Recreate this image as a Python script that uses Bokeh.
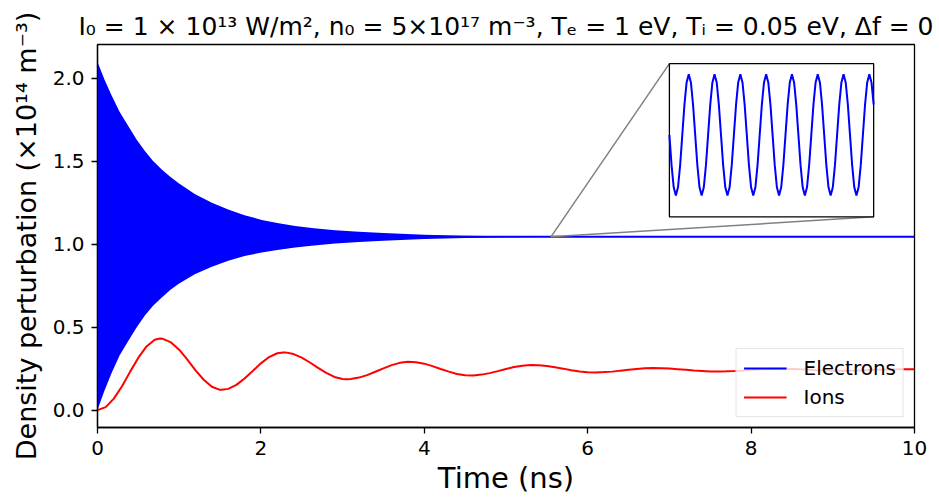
import numpy as np
from bokeh.plotting import figure
from bokeh.models import Range1d, FixedTicker, PrintfTickFormatter, Legend, LegendItem
from bokeh.embed import file_html
from bokeh.resources import INLINE

# ---------------- data ----------------
title_text = "I\u2080 = 1 \u00d7 10\u00b9\u00b3 W/m\u00b2, n\u2080 = 5\u00d710\u00b9\u2077 m\u207b\u00b3, T\u2091 = 1 eV, T\u1d62 = 0.05 eV, \u0394f = 0"
x_label = "Time (ns)"
y_label = "Density perturbation (\u00d710\u00b9\u2074 m\u207b\u00b3)"
x_ticks = [0, 2, 4, 6, 8, 10]
y_ticks = [0.0, 0.5, 1.0, 1.5, 2.0]

# electrons: envelope of the fast oscillation (x10^14 m^-3)
elec_t = [0.0, 0.08, 0.17, 0.27, 0.38, 0.48, 0.58, 0.68, 0.79, 0.89, 0.99, 1.19,
          1.40, 1.60, 1.80, 2.01, 2.20, 2.42, 2.65, 2.91, 3.20, 3.50, 4.00, 4.50,
          5.00, 5.50, 6.00, 10.0]
elec_upper = [2.10, 2.00, 1.90, 1.80, 1.71, 1.63, 1.562, 1.502, 1.45, 1.407, 1.37, 1.303,
              1.25, 1.21, 1.175, 1.147, 1.128, 1.111, 1.097, 1.085, 1.076, 1.068, 1.058, 1.052,
              1.048, 1.046, 1.045, 1.045]
elec_lower = [0.00, 0.11, 0.22, 0.33, 0.42, 0.50, 0.57, 0.63, 0.68, 0.725, 0.76, 0.82,
              0.865, 0.90, 0.93, 0.95, 0.965, 0.98, 0.993, 1.005, 1.014, 1.022, 1.032, 1.038,
              1.042, 1.044, 1.045, 1.045]

# ions
ion_t = [0.0, 0.1, 0.2, 0.3, 0.4, 0.5, 0.6, 0.7, 0.765, 0.8, 0.9, 1.0,
         1.1, 1.2, 1.3, 1.4, 1.5, 1.52, 1.6, 1.7, 1.8, 1.9, 2.0, 2.1,
         2.2, 2.274, 2.3, 2.4, 2.5, 2.6, 2.7, 2.8, 2.9, 3.0, 3.05, 3.1,
         3.2, 3.3, 3.4, 3.5, 3.6, 3.7, 3.8, 3.9, 4.0, 4.1, 4.2, 4.3,
         4.4, 4.5, 4.6, 4.7, 4.8, 4.9, 5.0, 5.1, 5.2, 5.3, 5.4, 5.5,
         5.6, 5.7, 5.8, 5.9, 6.0, 6.1, 6.2, 6.3, 6.4, 6.5, 6.6, 6.7,
         6.8, 6.9, 7.0, 7.1, 7.2, 7.3, 7.4, 7.5, 7.6, 7.7, 7.8, 7.9,
         8.0, 8.1, 8.2, 8.3, 8.4, 8.5, 8.6, 8.7, 8.8, 8.9, 9.0, 9.1,
         9.2, 9.3, 9.4, 9.5, 9.6, 9.7, 9.8, 9.9, 10.0]
ion_n = [0.000, 0.018, 0.069, 0.144, 0.232, 0.316, 0.384, 0.424, 0.432, 0.430, 0.408, 0.364,
         0.304, 0.240, 0.183, 0.141, 0.122, 0.122, 0.128, 0.152, 0.191, 0.236, 0.282, 0.320,
         0.343, 0.348, 0.348, 0.338, 0.316, 0.287, 0.255, 0.224, 0.200, 0.188, 0.186, 0.187,
         0.196, 0.211, 0.231, 0.252, 0.271, 0.285, 0.291, 0.289, 0.280, 0.265, 0.248, 0.232,
         0.218, 0.210, 0.209, 0.214, 0.223, 0.235, 0.248, 0.260, 0.268, 0.272, 0.271, 0.266,
         0.258, 0.250, 0.240, 0.233, 0.228, 0.227, 0.229, 0.232, 0.238, 0.243, 0.248, 0.252,
         0.254, 0.253, 0.251, 0.247, 0.243, 0.239, 0.236, 0.233, 0.233, 0.234, 0.236, 0.239,
         0.243, 0.246, 0.248, 0.249, 0.249, 0.248, 0.246, 0.244, 0.241, 0.240, 0.238, 0.238,
         0.238, 0.239, 0.241, 0.243, 0.244, 0.245, 0.246, 0.246, 0.246]

# inset: zoom on the electron oscillation near t = 5.55 ns
zoom_t = 5.55
zoom_n = 1.045
inset_n = [
    1.04514, 1.04435, 1.04377, 1.04356, 1.04377, 1.04435, 1.04514, 1.04593, 1.04651, 1.04672, 1.04651, 1.04593,
    1.04514, 1.04435, 1.04377, 1.04356, 1.04377, 1.04435, 1.04514, 1.04593, 1.04651, 1.04672, 1.04651, 1.04593,
    1.04514, 1.04435, 1.04377, 1.04356, 1.04377, 1.04435, 1.04514, 1.04593, 1.04651, 1.04672, 1.04651, 1.04593,
    1.04514, 1.04435, 1.04377, 1.04356, 1.04377, 1.04435, 1.04514, 1.04593, 1.04651, 1.04672, 1.04651, 1.04593,
    1.04514, 1.04435, 1.04377, 1.04356, 1.04377, 1.04435, 1.04514, 1.04593, 1.04651, 1.04672, 1.04651, 1.04593,
    1.04514, 1.04435, 1.04377, 1.04356, 1.04377, 1.04435, 1.04514, 1.04593, 1.04651, 1.04672, 1.04651, 1.04593,
    1.04514, 1.04435, 1.04377, 1.04356, 1.04377, 1.04435, 1.04514, 1.04593, 1.04651, 1.04672, 1.04651, 1.04593,
    1.04514, 1.04435, 1.04377, 1.04356, 1.04377, 1.04435, 1.04514, 1.04593, 1.04651, 1.04672, 1.04651, 1.04593,
]
inset_t_start, inset_t_end = 5.5495, 5.5505
inset_n_lim = (1.0430, 1.0470)

# ---------------- layout constants ----------------
FONT = "DejaVu Sans"
X0, X1 = 0.0, 10.0
Y0, Y1 = -0.105, 2.205
# inset box in axes fractions
FX0, FX1, FY0, FY1 = 0.70, 0.95, 0.55, 0.95

inset_t = np.linspace(inset_t_start, inset_t_end, len(inset_n))

# ---------------- figure ----------------
p = figure(width=939, height=497, x_range=Range1d(X0, X1), y_range=Range1d(Y0, Y1),
           output_backend="svg", toolbar_location=None,
           min_border_left=97, min_border_right=25, min_border_top=44, min_border_bottom=67)

# inset ranges, chosen so the inset data fills the inset box
sx = (inset_t_end - inset_t_start) / (FX1 - FX0)
ix_start = inset_t_start - FX0 * sx
sy = (inset_n_lim[1] - inset_n_lim[0]) / (FY1 - FY0)
iy_start = inset_n_lim[0] - FY0 * sy
p.extra_x_ranges = {"inset_x": Range1d(ix_start, ix_start + sx)}
p.extra_y_ranges = {"inset_y": Range1d(iy_start, iy_start + sy)}

p.title.text = title_text
p.title.align = "center"
p.title.text_font = FONT
p.title.text_font_size = "25px"
p.title.text_font_style = "normal"
p.title.text_color = "black"
p.title.standoff = 8

p.xgrid.visible = False
p.ygrid.visible = False
p.background_fill_color = "white"
p.border_fill_color = "white"
p.outline_line_color = "black"
p.outline_line_width = 1.3
p.outline_line_alpha = 1.0

p.xaxis.ticker = FixedTicker(ticks=x_ticks)
p.yaxis.ticker = FixedTicker(ticks=y_ticks)
p.yaxis.formatter = PrintfTickFormatter(format="%.1f")
p.xaxis.axis_label = x_label
p.yaxis.axis_label = y_label
for ax in (p.xaxis, p.yaxis):
    ax.axis_label_text_font = FONT
    ax.axis_label_text_font_style = "normal"
    ax.axis_label_text_color = "black"
    ax.major_label_text_font = FONT
    ax.major_label_text_font_size = "20px"
    ax.major_label_text_color = "black"
    ax.axis_line_color = "black"
    ax.axis_line_width = 1.3
    ax.major_tick_line_color = "black"
    ax.major_tick_line_width = 1.3
    ax.major_tick_in = 0
    ax.major_tick_out = 6
    ax.minor_tick_line_color = None
p.xaxis.axis_label_text_font_size = "29px"
p.yaxis.axis_label_text_font_size = "27px"
p.xaxis.major_label_standoff = 7
p.xaxis.axis_label_standoff = 3
p.yaxis.major_label_standoff = 7
p.yaxis.axis_label_standoff = 8

# electrons: filled oscillation envelope + mean line
p.varea(x=elec_t, y1=elec_lower, y2=elec_upper, fill_color="#0000ff", fill_alpha=1.0)
elec_mid = [(u + l) / 2 for u, l in zip(elec_upper, elec_lower)]
r_e = p.line(elec_t, elec_mid, line_color="#0000ff", line_width=2)

# ions
r_i = p.line(ion_t, ion_n, line_color="#ff0000", line_width=2)

# inset box corners in data space
bx0 = X0 + FX0 * (X1 - X0)
bx1 = X0 + FX1 * (X1 - X0)
by0 = Y0 + FY0 * (Y1 - Y0)
by1 = Y0 + FY1 * (Y1 - Y0)

# connector lines
p.line([zoom_t, bx0], [zoom_n, by1], line_color="#808080", line_width=1.5)
p.line([zoom_t, bx1], [zoom_n, by0], line_color="#808080", line_width=1.5)

# inset frame and curve
p.quad(left=[bx0], right=[bx1], bottom=[by0], top=[by1],
       fill_color="white", line_color="black", line_width=1.3)
p.line(inset_t, inset_n, line_color="#0000ff", line_width=2,
       x_range_name="inset_x", y_range_name="inset_y")

legend = Legend(items=[LegendItem(label="Electrons", renderers=[r_e]),
                       LegendItem(label="Ions", renderers=[r_i])],
                location="bottom_right")
legend.label_text_font = FONT
legend.label_text_font_size = "20px"
legend.label_text_color = "black"
legend.glyph_width = 43
legend.glyph_height = 20
legend.label_standoff = 17
legend.label_height = 20
legend.padding = 7
legend.spacing = 5
legend.margin = 10
legend.border_line_color = "#cccccc"
legend.border_line_width = 1
legend.background_fill_alpha = 0.8
p.add_layout(legend)

open("out.html", "w").write(file_html(p, INLINE))
